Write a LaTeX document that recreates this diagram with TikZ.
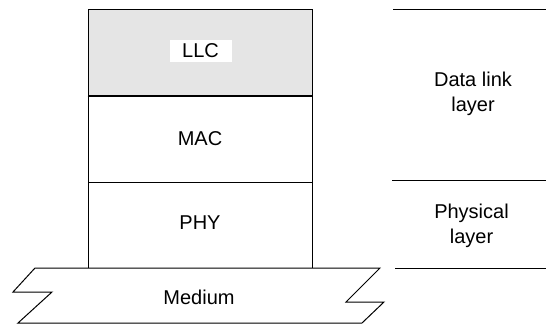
\documentclass[tikz,border=0pt]{standalone}
\usepackage{fontspec}
\setmainfont{Liberation Sans}
\begin{document}
\begin{tikzpicture}[x=1pt,y=-1pt,
  lbl/.style={font=\fontsize{20}{25}\selectfont, inner sep=0pt, align=center},
  ln/.style={line width=1pt, black},
  layerbox/.style={draw, line width=1pt, minimum width=224pt, minimum height=86pt, inner sep=0pt}]
\useasboundingbox (0,0) rectangle (546,326);
% stack boxes
\node[layerbox, fill={rgb,255:red,229;green,229;blue,229}] (llcbox) at (200,53) {};
\node[layerbox] (macbox) at (200,139) {};
\node[layerbox] (phybox) at (200,225) {};
\draw[line width=1.6pt] (llcbox.south west) -- (llcbox.south east);
\node[lbl, fill=white, minimum width=62pt, minimum height=22.3pt] (llc) at (200.5,51.1) {LLC};
\node[lbl] (mac) at (200,139) {MAC};
\node[lbl] (phy) at (200,222.5) {PHY};
% medium
\draw[ln, fill=white] (35,268) -- (380,268) -- (346,302) -- (384,302) -- (362,323)
  -- (18,323) -- (52,292) -- (13,292) -- cycle;
\node[lbl] (medium) at (199,297) {Medium};
% right column
\coordinate (r1a) at (393,10); \coordinate (r1b) at (546,10);
\coordinate (r2a) at (392,180); \coordinate (r2b) at (546,180);
\coordinate (r3a) at (395,268); \coordinate (r3b) at (546,268);
\draw[ln] (r1a) -- (r1b);
\draw[ln] (r2a) -- (r2b);
\draw[ln] (r3a) -- (r3b);
\node[lbl] (dll) at (473,94) {Data link\\layer};
\node[lbl] (pl) at (471.5,225.5) {Physical\\layer};
\end{tikzpicture}
\end{document}
